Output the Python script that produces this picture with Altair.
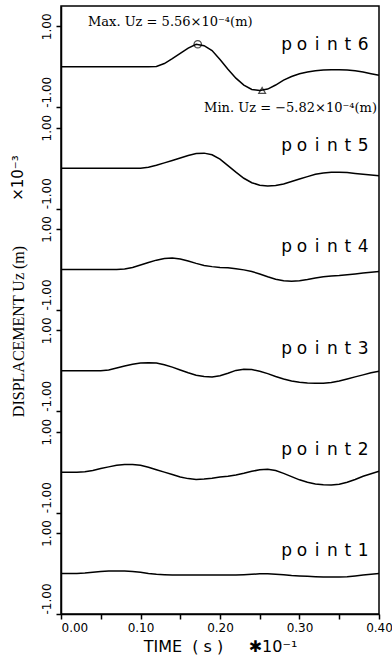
import altair as alt
import pandas as pd

# ---- data (displacement in units of 1e-3 m, time in units of 1e-1 s) ----
time = [0.00, 0.01, 0.02, 0.03, 0.04, 0.05, 0.06, 0.07, 0.08, 0.09,
        0.10, 0.11, 0.12, 0.13, 0.14, 0.15, 0.16, 0.17, 0.18, 0.19,
        0.20, 0.21, 0.22, 0.23, 0.24, 0.25, 0.26, 0.27, 0.28, 0.29,
        0.30, 0.31, 0.32, 0.33, 0.34, 0.35, 0.36, 0.37, 0.38, 0.39, 0.40]

point1 = [0, 0, 0, 0.01, 0.03, 0.05, 0.06, 0.06, 0.06, 0.05,
          0.03, 0.0, -0.02, -0.03, -0.04, -0.04, -0.04, -0.04, -0.04, -0.04,
          -0.04, -0.04, -0.04, -0.03, -0.02, -0.01, -0.01, -0.02, -0.03, -0.05,
          -0.06, -0.07, -0.08, -0.09, -0.09, -0.09, -0.08, -0.06, -0.04, -0.02, 0.0]

point2 = [0, 0, 0, 0.01, 0.04, 0.09, 0.13, 0.17, 0.19, 0.19,
          0.17, 0.12, 0.06, 0.0, -0.06, -0.12, -0.16, -0.18, -0.17, -0.15,
          -0.12, -0.10, -0.07, -0.03, 0.02, 0.06, 0.07, 0.04, -0.03, -0.11,
          -0.19, -0.25, -0.29, -0.31, -0.32, -0.30, -0.25, -0.18, -0.10, -0.04, 0.02]

point3 = [0, 0, 0, 0, 0, 0, 0.02, 0.07, 0.12, 0.16,
          0.19, 0.20, 0.19, 0.15, 0.09, 0.02, -0.05, -0.11, -0.14, -0.15,
          -0.12, -0.06, 0.01, 0.04, 0.03, -0.01, -0.07, -0.14, -0.20, -0.25,
          -0.28, -0.30, -0.31, -0.31, -0.29, -0.25, -0.20, -0.15, -0.10, -0.05, -0.01]

point4 = [0, 0, 0, 0, 0, 0, 0, 0, 0.01, 0.05,
          0.11, 0.17, 0.23, 0.27, 0.28, 0.26, 0.21, 0.15, 0.10, 0.07,
          0.05, 0.04, 0.02, -0.01, -0.05, -0.11, -0.18, -0.24, -0.28, -0.29,
          -0.28, -0.25, -0.21, -0.18, -0.16, -0.15, -0.13, -0.11, -0.09, -0.07, -0.05]

point5 = [0, 0, 0, 0, 0, 0, 0, 0, 0, 0,
          0, 0.02, 0.07, 0.13, 0.19, 0.25, 0.31, 0.36, 0.37, 0.33,
          0.22, 0.06, -0.10, -0.25, -0.36, -0.42, -0.44, -0.43, -0.39, -0.33,
          -0.27, -0.21, -0.15, -0.12, -0.10, -0.10, -0.11, -0.13, -0.15, -0.17, -0.19]

point6 = [0, 0, 0, 0, 0, 0, 0, 0, 0, 0,
          0, 0, 0.01, 0.08, 0.20, 0.33, 0.46, 0.556, 0.52, 0.40,
          0.18, -0.06, -0.28, -0.45, -0.56, -0.582, -0.55, -0.45, -0.33, -0.24,
          -0.17, -0.13, -0.10, -0.08, -0.07, -0.07, -0.08, -0.10, -0.13, -0.17, -0.21]

labels = ["point1", "point2", "point3", "point4", "point5", "point6"]
series = [point1, point2, point3, point4, point5, point6]
bases = [0.0, 2.5, 5.0, 7.5, 10.0, 12.5]

x_ticks = [0.00, 0.05, 0.10, 0.15, 0.20, 0.25, 0.30, 0.35, 0.40]
y_ticks = [-1.0, 1.0, 1.5, 3.5, 4.0, 6.0, 6.5, 8.5, 9.0, 11.0, 11.5, 13.5]

max_t = [0.172]
max_v = [0.556]
min_t = [0.253]
min_v = [-0.582]
max_text = "Max. Uz = 5.56×10⁻⁴(m)"
min_text = "Min. Uz = −5.82×10⁻⁴(m)"
x_title = "TIME\u00a0\u00a0(\u00a0s\u00a0)\u00a0\u00a0\u00a0\u00a0\u00a0✱10⁻¹"

# ---- tables ----
rows = []
for name, vals, b in zip(labels, series, bases):
    for t, v in zip(time, vals):
        rows.append({"series": name, "t": t, "v": v, "base": b})
df = pd.DataFrame(rows)

char_rows = []
for name, b in zip(labels, bases):
    for k, ch in enumerate(name):
        char_rows.append({"ch": ch, "k": k, "n": len(name), "base": b})
df_chars = pd.DataFrame(char_rows)

df_max = pd.DataFrame({"t": max_t, "v": max_v, "base": [bases[5]]})
df_min = pd.DataFrame({"t": min_t, "v": min_v, "base": [bases[5]]})

x_scale = alt.Scale(domain=[0, 0.4], nice=False, zero=False)
y_scale = alt.Scale(domain=[-1, 14], nice=False, zero=False)

x_axis = alt.Axis(
    values=x_ticks,
    labelExpr="round(datum.value*100) % 10 == 0 ? format(datum.value, '.2f') : ''",
    labelAlign={"condition": {"test": "datum.value === 0", "value": "left"}, "value": "center"},
    labelFlush=False, labelOverlap=False,
    tickSize=5, tickWidth=1.5, tickColor="black",
    domainColor="black", domainWidth=1.5,
    labelFont="DejaVu Sans", labelFontSize=12, labelColor="black", labelPadding=3,
    title=x_title, titleFont="DejaVu Sans", titleFontSize=16,
    titleFontWeight="normal", titleColor="black", titlePadding=5,
    grid=False,
)

y_axis = alt.Axis(
    values=y_ticks,
    labelExpr="(datum.value + 1) % 2.5 === 0 ? '-1.00' : '1.00'",
    labelAngle=270,
    labelAlign={"condition": {"test": "(datum.value + 1) % 2.5 === 0", "value": "left"}, "value": "center"},
    labelBaseline="bottom",
    labelOverlap=False, labelFlush=False,
    tickSize=5, tickWidth=1.5, tickColor="black",
    domainColor="black", domainWidth=1.5,
    labelFont="DejaVu Sans", labelFontSize=12, labelColor="black", labelPadding=3,
    title="DISPLACEMENT Uz (m)", titleFont="Liberation Serif", titleFontSize=16,
    titleFontWeight="normal", titleColor="black", titleAngle=270,
    titleX=-43, titleY=325, titleAlign="center", titleBaseline="middle",
    grid=False,
)

X = alt.X("t:Q", scale=x_scale, axis=x_axis)
Y = alt.Y("y:Q", scale=y_scale, axis=y_axis)

lines = alt.Chart(df).transform_calculate(
    y="datum.v + datum.base"
).mark_line(color="black", strokeWidth=1.5).encode(
    x=X, y=Y, detail="series:N",
)

chars = alt.Chart(df_chars).transform_calculate(
    t="0.38 - (datum.n - 1 - datum.k) * 0.01925",
    y="datum.base + 0.42",
).mark_text(font="DejaVu Sans", fontSize=17, color="black", align="center",
            baseline="alphabetic").encode(
    x=X, y=Y, text="ch:N",
)

max_mark = alt.Chart(df_max).transform_calculate(
    y="datum.v + datum.base"
).mark_point(shape="circle", filled=False, size=55, color="black", strokeWidth=1.3).encode(
    x=X, y=Y,
)

min_mark = alt.Chart(df_min).transform_calculate(
    y="datum.v + datum.base"
).mark_point(shape="triangle-up", filled=False, size=45, color="black", strokeWidth=1.3).encode(
    x=X, y=Y,
)

max_label = alt.Chart(pd.DataFrame({"text": [max_text]})).mark_text(
    font="DejaVu Serif", fontSize=13, color="black", align="left", baseline="middle"
).encode(text="text:N", x=alt.value(27), y=alt.value(16))

min_label = alt.Chart(pd.DataFrame({"text": [min_text]})).mark_text(
    font="DejaVu Serif", fontSize=13, color="black", align="right", baseline="middle"
).encode(text="text:N", x=alt.value(316), y=alt.value(102))

exp_label = alt.Chart(pd.DataFrame({"text": ["×10⁻³"]})).mark_text(
    font="DejaVu Sans", fontSize=15, color="black", align="center", baseline="middle", angle=270
).encode(text="text:N", x=alt.value(-43), y=alt.value(172))

chart = alt.layer(
    lines, chars, max_mark, min_mark, max_label, min_label, exp_label
).properties(
    width=318, height=608,
    autosize=alt.AutoSizeParams(type="none"),
    padding={"left": 61, "top": 6, "right": 13, "bottom": 51},
    background="white",
).configure_view(
    stroke="black", strokeWidth=1.5
)

chart.save("out.html", embed_options={"renderer": "svg", "actions": False})
